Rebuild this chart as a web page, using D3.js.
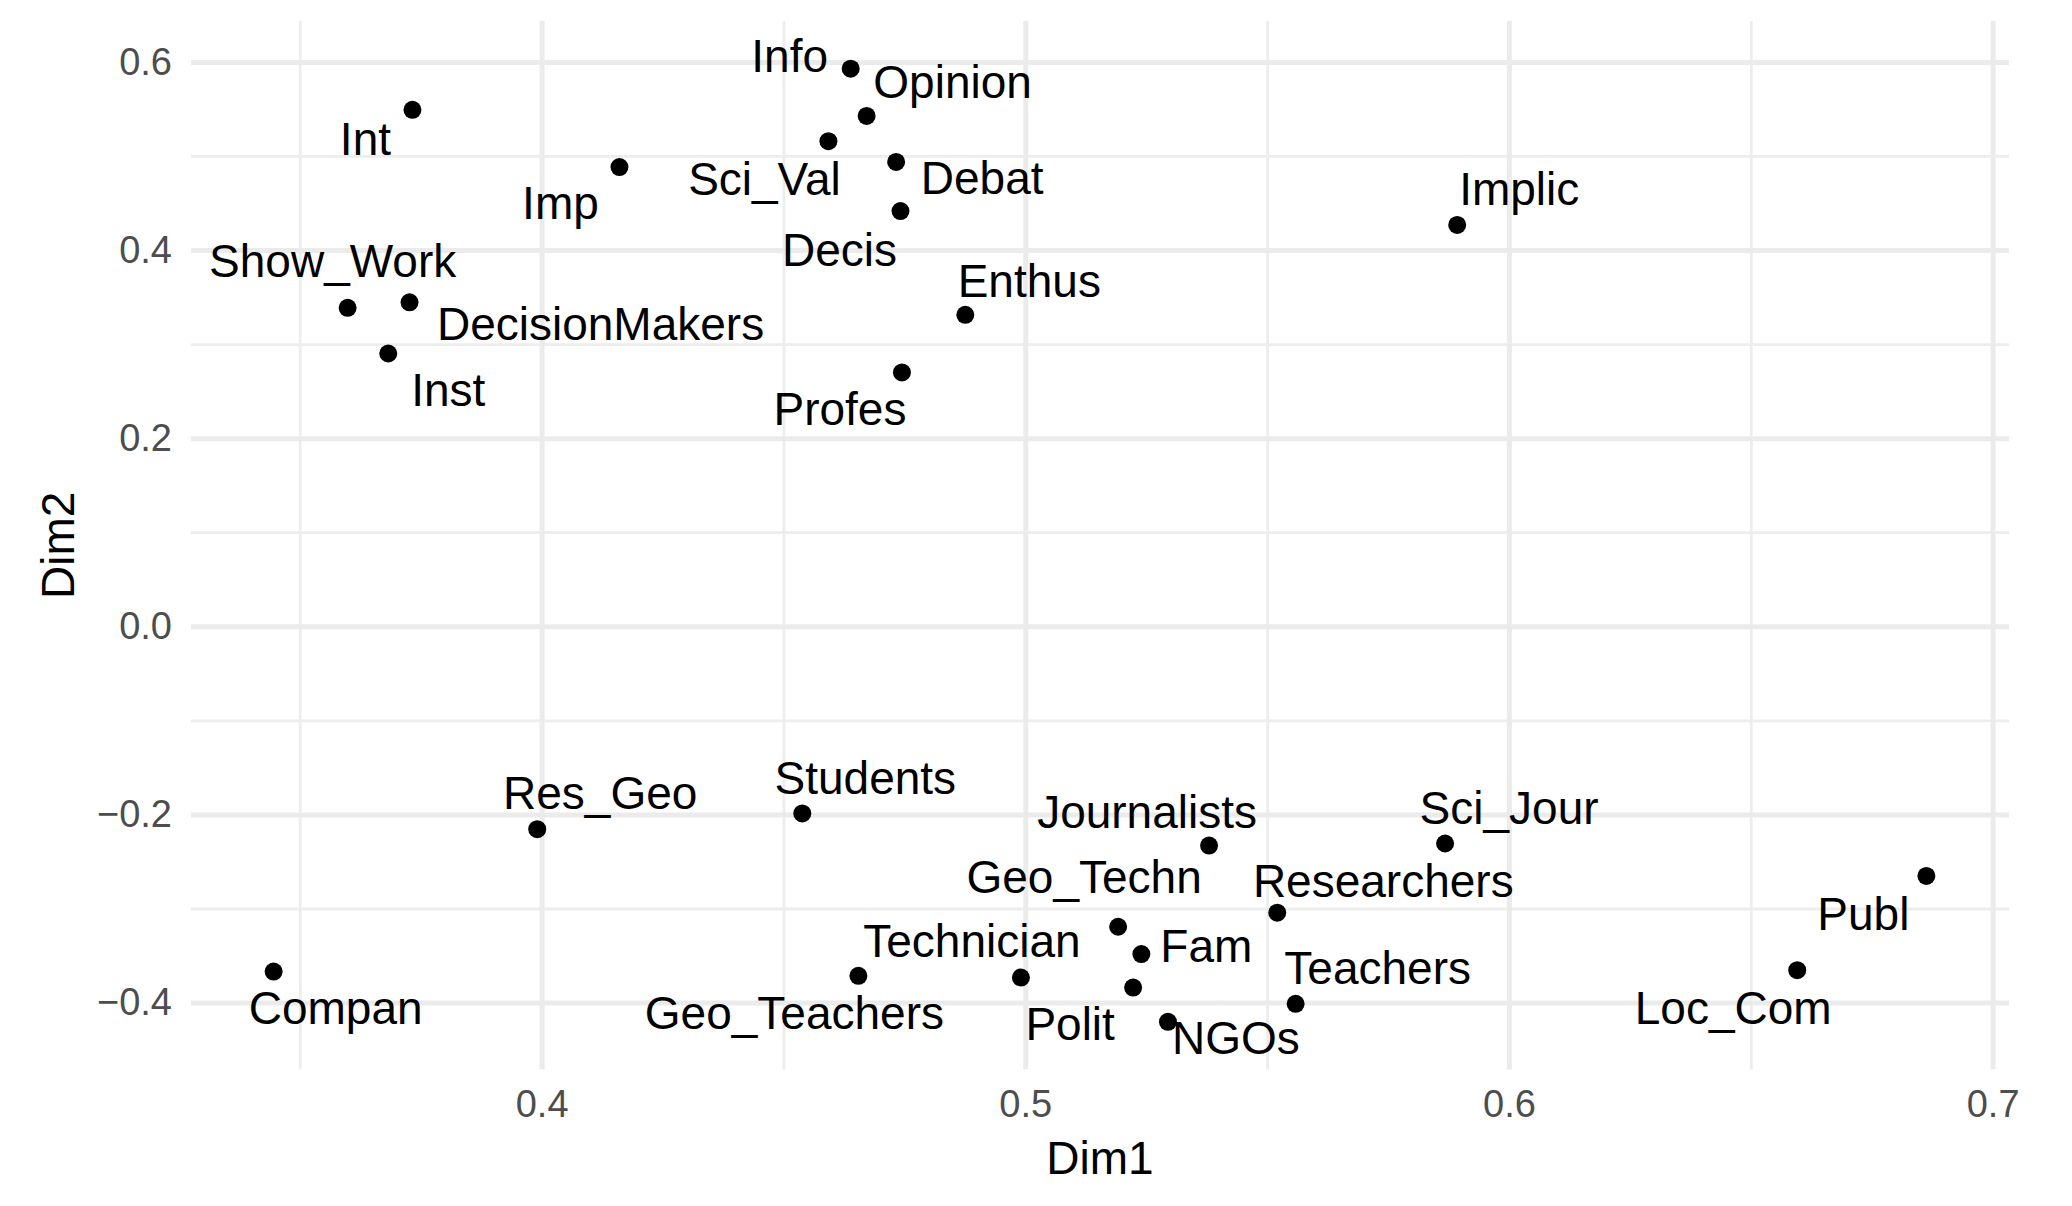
<!DOCTYPE html>
<html>
<head>
<meta charset="utf-8">
<script src="https://cdn.jsdelivr.net/npm/d3@7"></script>
<style>
  html, body { margin: 0; padding: 0; background: #ffffff; }
  svg { display: block; }
</style>
</head>
<body>
<svg id="chart" width="2072" height="1206"></svg>
<script>
// ---------------- data ----------------
const names = ["Info","Opinion","Sci_Val","Int","Imp","Debat","Decis","Show_Work","DecisionMakers","Inst","Enthus","Profes","Implic",
               "Res_Geo","Students","Compan","Geo_Teachers","Technician","Polit","Geo_Techn","Journalists","Fam","NGOs","Teachers","Researchers","Sci_Jour","Publ","Loc_Com"];
const dim1 = [0.4639,0.4672,0.4593,0.3733,0.4161,0.4733,0.4742,0.3599,0.3727,0.3683,0.4876,0.4745,0.5893,
              0.3991,0.4539,0.3446,0.4655,0.4991,0.5223,0.5192,0.5380,0.5240,0.5295,0.5559,0.5521,0.5868,0.6863,0.6596];
const dim2 = [0.5928,0.5426,0.5157,0.5491,0.4882,0.4937,0.4414,0.3385,0.3444,0.2900,0.3311,0.2699,0.4267,
              -0.2157,-0.1989,-0.3671,-0.3716,-0.3734,-0.3841,-0.3194,-0.2331,-0.3484,-0.4205,-0.4013,-0.3044,-0.2309,-0.2654,-0.3656];
const xTicks = [0.4, 0.5, 0.6, 0.7];
const yTicks = [-0.4, -0.2, 0.0, 0.2, 0.4, 0.6];
const xTitle = "Dim1";
const yTitle = "Dim2";

// ---------------- label layout (repelled label offsets, px from point) ----------------
const labelDx = [-61, 86, -64, -47, -59, 86, -61, -15, 191, 60, 64, -62, 62,
                 63, 63, 62, -64, -49, -63, -34, -62, 65, 68, 82, 106, 64, -63, -64];
const labelDy = [3, -18, 54, 45, 52, 32, 55, -31, 38, 53, -18, 53, -20,
                 -20, -19, 52, 53, -21, 52, -34, -18, 8, 32, -20, -16, -19, 54, 54];

// ---------------- layout ----------------
const panel = { left: 191, right: 2009, top: 21, bottom: 1069.5 };
const FONT = "'Liberation Sans', Arial, Helvetica, sans-serif";

const data = names.map((n, i) => ({ name: n, x: dim1[i], y: dim2[i], dx: labelDx[i], dy: labelDy[i] }));

function expand(ext) { const r = ext[1] - ext[0]; return [ext[0] - 0.05 * r, ext[1] + 0.05 * r]; }
const x = d3.scaleLinear().domain(expand(d3.extent(dim1))).range([panel.left, panel.right]);
const y = d3.scaleLinear().domain(expand(d3.extent(dim2))).range([panel.bottom, panel.top]);

function minors(major, dom) {
  const step = major[1] - major[0];
  const out = [];
  for (let i = -1; i < major.length; i++) {
    const v = (i < 0 ? major[0] - step / 2 : major[i] + step / 2);
    if (v >= dom[0] && v <= dom[1]) out.push(+v.toFixed(6));
  }
  return out;
}
const xMinor = minors(xTicks, x.domain());
const yMinor = minors(yTicks, y.domain());

const svg = d3.select("#chart");
svg.append("rect").attr("width", 2072).attr("height", 1206).attr("fill", "#ffffff");

const W = panel.right - panel.left, H = panel.bottom - panel.top;

// grid: minor then major
function grid(g, axis, width, color) {
  g.call(axis);
  g.select(".domain").remove();
  g.selectAll(".tick line").attr("stroke", color).attr("stroke-width", width);
  g.selectAll(".tick text").remove();
}
grid(svg.append("g").attr("transform", `translate(0,${panel.bottom})`),
     d3.axisBottom(x).tickValues(xMinor).tickSize(-H).tickFormat(""), 2.8, "#ededed");
grid(svg.append("g").attr("transform", `translate(${panel.left},0)`),
     d3.axisLeft(y).tickValues(yMinor).tickSize(-W).tickFormat(""), 2.8, "#ededed");
grid(svg.append("g").attr("transform", `translate(0,${panel.bottom})`),
     d3.axisBottom(x).tickValues(xTicks).tickSize(-H).tickFormat(""), 5, "#ebebeb");
grid(svg.append("g").attr("transform", `translate(${panel.left},0)`),
     d3.axisLeft(y).tickValues(yTicks).tickSize(-W).tickFormat(""), 5, "#ebebeb");

// axes labels
const xAxis = svg.append("g").attr("transform", `translate(0,${panel.bottom})`)
  .call(d3.axisBottom(x).tickValues(xTicks).tickSize(0).tickPadding(21).tickFormat(d3.format(".1f")));
xAxis.select(".domain").remove();
xAxis.selectAll("text").attr("font-family", FONT).attr("font-size", 38).attr("fill", "#4d4d4d");

const yAxis = svg.append("g").attr("transform", `translate(${panel.left},0)`)
  .call(d3.axisLeft(y).tickValues(yTicks).tickSize(0).tickPadding(19).tickFormat(d3.format(".1f")));
yAxis.select(".domain").remove();
yAxis.selectAll("text").attr("font-family", FONT).attr("font-size", 38).attr("fill", "#4d4d4d");

// titles
svg.append("text").attr("x", (panel.left + panel.right) / 2).attr("y", 1174)
  .attr("text-anchor", "middle").attr("font-family", FONT).attr("font-size", 46).attr("fill", "#000")
  .text(xTitle);
const cy = (panel.top + panel.bottom) / 2;
svg.append("text").attr("transform", `translate(74,${cy}) rotate(-90)`)
  .attr("text-anchor", "middle").attr("font-family", FONT).attr("font-size", 46).attr("fill", "#000")
  .text(yTitle);

// points
svg.append("g").selectAll("circle").data(data).join("circle")
  .attr("cx", d => x(d.x)).attr("cy", d => y(d.y)).attr("r", 9).attr("fill", "#000");

// labels
svg.append("g").selectAll("text").data(data).join("text")
  .attr("x", d => x(d.x) + d.dx).attr("y", d => y(d.y) + d.dy)
  .attr("text-anchor", "middle").attr("font-family", FONT).attr("font-size", 46).attr("fill", "#000")
  .text(d => d.name);
</script>
</body>
</html>
